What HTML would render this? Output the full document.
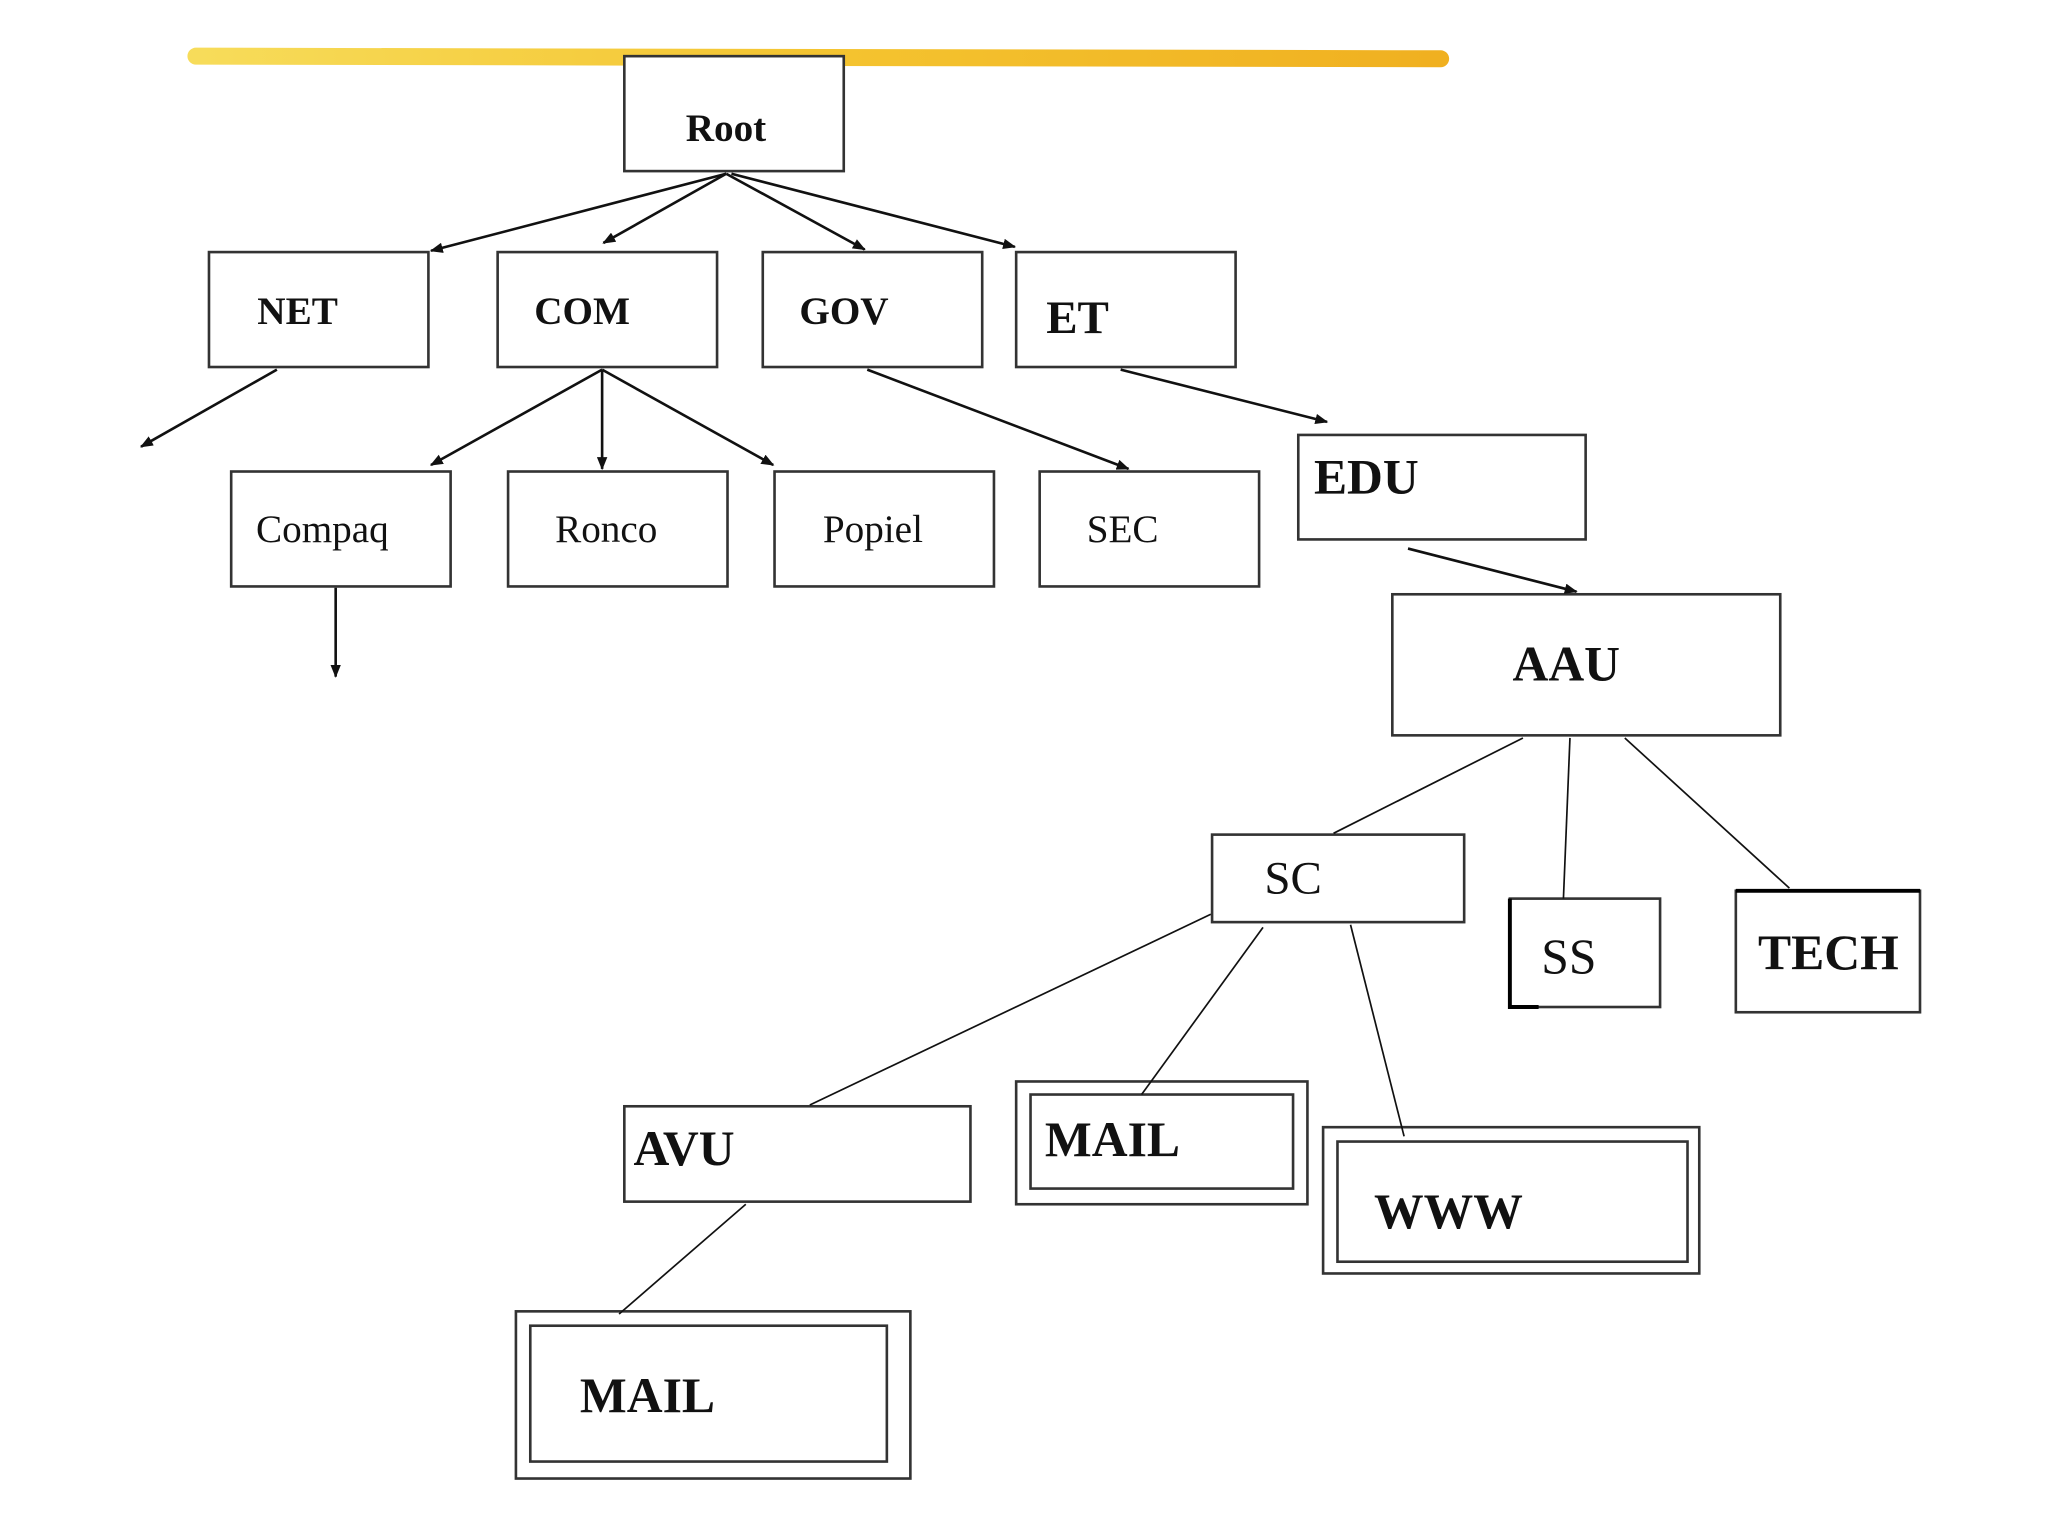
<!DOCTYPE html>
<html><head><meta charset="utf-8"><style>
html,body{margin:0;padding:0;background:#fff;}
svg{display:block;}
text{font-family:"Liberation Serif",serif;fill:#111;}
.b{font-weight:bold;}
</style></head><body>
<svg width="2048" height="1536" viewBox="0 0 1568 1176" xmlns="http://www.w3.org/2000/svg">
<defs>
<marker id="a" markerWidth="10" markerHeight="8" refX="9" refY="4" orient="auto" markerUnits="userSpaceOnUse">
<path d="M0,0 L10,4 L0,8 z" fill="#111"/></marker>
<linearGradient id="y" x1="0" x2="1"><stop offset="0" stop-color="#f7dc5a"/><stop offset="0.5" stop-color="#f4c430"/><stop offset="1" stop-color="#f0b020"/></linearGradient>
</defs>
<path d="M150,43 L1103,45" stroke="url(#y)" stroke-width="13" stroke-linecap="round"/>
<g fill="#fff" stroke="#333" stroke-width="2">
<rect x="478" y="43" width="168" height="88"/>
<rect x="160" y="193" width="168" height="88"/>
<rect x="381" y="193" width="168" height="88"/>
<rect x="584" y="193" width="168" height="88"/>
<rect x="778" y="193" width="168" height="88"/>
<rect x="177" y="361" width="168" height="88"/>
<rect x="389" y="361" width="168" height="88"/>
<rect x="593" y="361" width="168" height="88"/>
<rect x="796" y="361" width="168" height="88"/>
<rect x="994" y="333" width="220" height="80"/>
<rect x="1066" y="455" width="297" height="108"/>
<rect x="928" y="639" width="193" height="67"/>
<rect x="1156" y="688" width="115" height="83"/>
<rect x="1329" y="682" width="141" height="93"/>
<rect x="478" y="847" width="265" height="73"/>
<rect x="778" y="828" width="223" height="94"/>
<rect x="789" y="838" width="201" height="72"/>
<rect x="1013" y="863" width="288" height="112"/>
<rect x="1024" y="874" width="268" height="92"/>
<rect x="395" y="1004" width="302" height="128"/>
<rect x="406" y="1015" width="273" height="104"/>
</g>
<path d="M1156,688 V771 H1178" fill="none" stroke="#000" stroke-width="3"/>
<path d="M1329,682 H1470" fill="none" stroke="#000" stroke-width="3"/>
<g stroke="#111" stroke-width="2" marker-end="url(#a)" fill="none">
<line x1="556" y1="133" x2="330" y2="192"/>
<line x1="556" y1="133" x2="462" y2="186"/>
<line x1="556" y1="133" x2="662" y2="191"/>
<line x1="560" y1="133" x2="777" y2="189"/>
<line x1="212" y1="283" x2="108" y2="342"/>
<line x1="461" y1="283" x2="330" y2="356"/>
<line x1="461" y1="283" x2="461" y2="359"/>
<line x1="461" y1="283" x2="592" y2="356"/>
<line x1="664" y1="283" x2="864" y2="359"/>
<line x1="858" y1="283" x2="1016" y2="323"/>
<line x1="1078" y1="420" x2="1207" y2="453"/>
<line x1="257" y1="450" x2="257" y2="518"/>
</g>
<g stroke="#111" stroke-width="1.3">
<line x1="1166" y1="565" x2="1021" y2="638"/>
<line x1="1202" y1="565" x2="1197" y2="688"/>
<line x1="1244" y1="565" x2="1370" y2="680"/>
<line x1="927" y1="700" x2="620" y2="846"/>
<line x1="967" y1="710" x2="874" y2="838"/>
<line x1="1034" y1="708" x2="1075" y2="870"/>
<line x1="571" y1="922" x2="474" y2="1006"/>
</g>
<text x="525" y="108" font-size="30" class="b">Root</text>
<text x="197" y="248" font-size="30" class="b">NET</text>
<text x="409" y="248" font-size="30" class="b">COM</text>
<text x="612" y="248" font-size="30" class="b">GOV</text>
<text x="801" y="255" font-size="36" class="b">ET</text>
<text x="196" y="415" font-size="30">Compaq</text>
<text x="425" y="415" font-size="30">Ronco</text>
<text x="630" y="415" font-size="30">Popiel</text>
<text x="832" y="415" font-size="30">SEC</text>
<text x="1006" y="378" font-size="38" class="b">EDU</text>
<text x="1158" y="521" font-size="38" class="b">AAU</text>
<text x="968" y="684" font-size="36">SC</text>
<text x="1180" y="745" font-size="38">SS</text>
<text x="1346" y="742" font-size="38" class="b">TECH</text>
<text x="485" y="892" font-size="38" class="b">AVU</text>
<text x="800" y="885" font-size="38" class="b">MAIL</text>
<text x="1052" y="940" font-size="38" class="b">WWW</text>
<text x="444" y="1081" font-size="38" class="b">MAIL</text>
</svg>
</body></html>
